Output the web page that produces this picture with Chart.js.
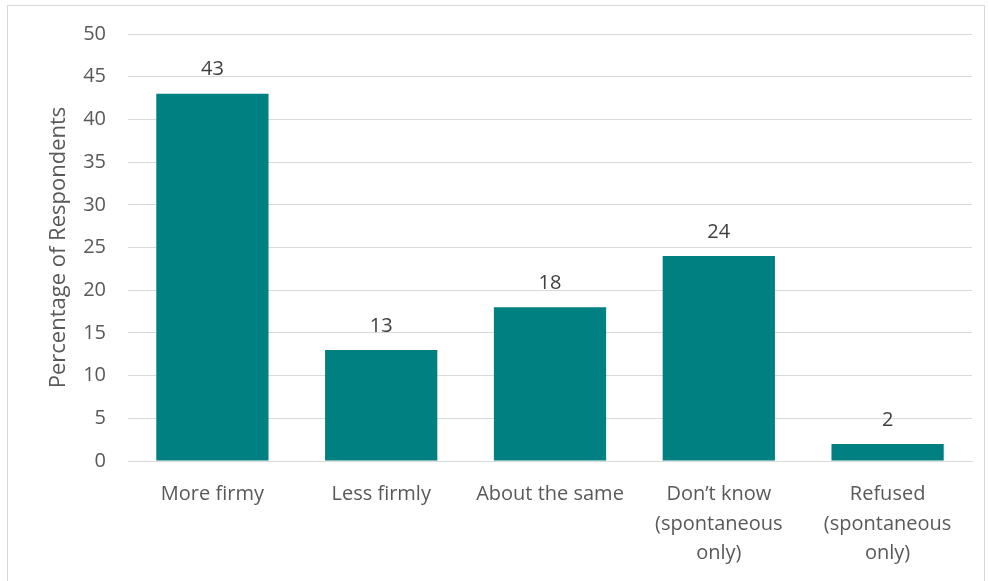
<!DOCTYPE html>
<html lang="en">
<head>
<meta charset="UTF-8">
<title>Percentage of Respondents</title>
<script src="https://cdn.jsdelivr.net/npm/chart.js"></script>
<style>
  html, body { margin: 0; padding: 0; background: #fff; }
  .frame {
    position: absolute;
    left: 7px; top: 5px;
    width: 978px; height: 585px;
    border: 1px solid #d9d9d9;
    box-sizing: border-box;
  }
  .chartBox { position: absolute; left: 0; top: 0; width: 989px; height: 581px; }
</style>
</head>
<body>
<div class="frame"></div>
<div class="chartBox"><canvas id="myChart"></canvas></div>
<script>
// data
const categories = [
  'More firmy',
  'Less firmly',
  'About the same',
  ['Don\u2019t know', '(spontaneous', 'only)'],
  ['Refused', '(spontaneous', 'only)']
];
const percentValues = [43, 13, 18, 24, 2];
const yTicks = [0, 5, 10, 15, 20, 25, 30, 35, 40, 45, 50];

const textFont = { family: 'Open Sans', size: 20, lineHeight: 1.47 };

// labels above each bar
const barLabels = {
  id: 'barLabels',
  afterDatasetsDraw(chart) {
    const ctx = chart.ctx;
    const meta = chart.getDatasetMeta(0);
    ctx.save();
    ctx.font = '20px "Open Sans"';
    ctx.fillStyle = '#404040';
    ctx.textAlign = 'center';
    ctx.textBaseline = 'middle';
    meta.data.forEach((bar, i) => {
      ctx.fillText(percentValues[i], bar.x, bar.y - 24);
    });
    ctx.restore();
  }
};

new Chart(document.getElementById('myChart'), {
  type: 'bar',
  data: {
    labels: categories,
    datasets: [{
      data: percentValues,
      backgroundColor: '#008080',
      borderWidth: 0,
      categoryPercentage: 1,
      barPercentage: 0.665
    }]
  },
  options: {
    responsive: true,
    maintainAspectRatio: false,
    animation: false,
    layout: { padding: { left: 46, right: 17, top: 20, bottom: 0 } },
    plugins: {
      legend: { display: false },
      tooltip: { enabled: false }
    },
    scales: {
      x: {
        grid: { display: false, drawTicks: false },
        border: { color: '#d9d9d9', width: 1 },
        ticks: { color: '#595959', font: textFont, padding: 19, maxRotation: 0, autoSkip: false },
        afterFit(scale) { scale.height = 120; }
      },
      y: {
        min: 0,
        max: 50,
        afterBuildTicks(scale) { scale.ticks = yTicks.map(v => ({ value: v })); },
        grid: { color: '#d9d9d9', drawTicks: false },
        border: { display: false },
        ticks: { color: '#595959', font: { family: 'Open Sans', size: 20, lineHeight: 1.2 }, padding: 22 },
        title: {
          display: true,
          text: 'Percentage of Respondents',
          color: '#595959',
          font: { family: 'Open Sans', size: 22 },
          padding: 0
        },
        afterFit(scale) { scale.width = 82; }
      }
    }
  },
  plugins: [barLabels]
});
</script>
</body>
</html>
